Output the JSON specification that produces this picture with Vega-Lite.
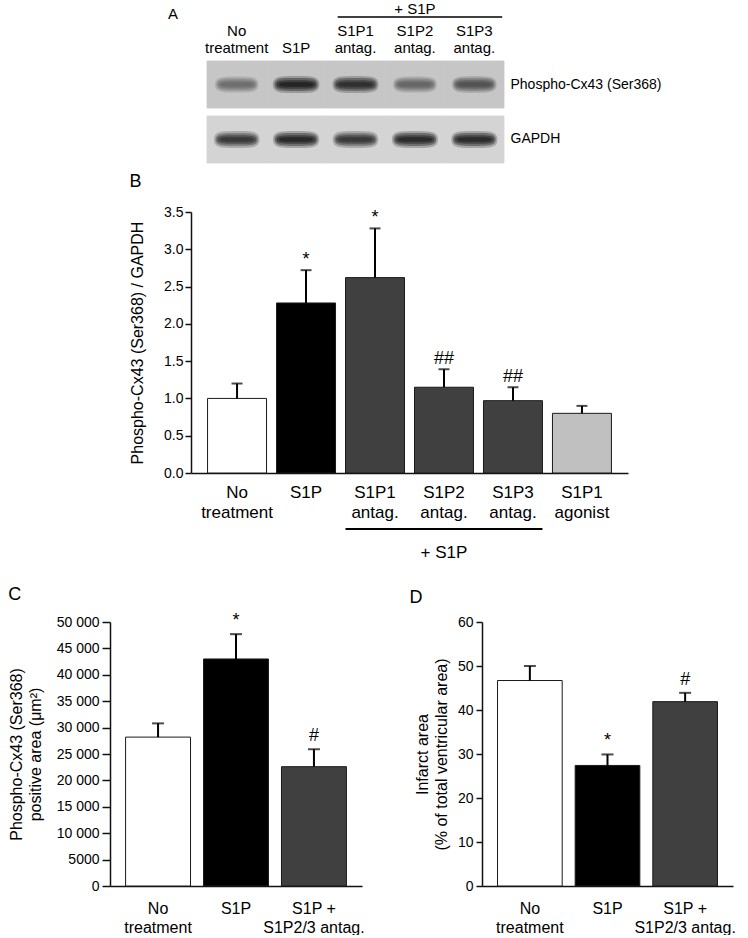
{
  "$schema": "https://vega.github.io/schema/vega-lite/v6.json",
  "background": "white",
  "padding": {"left": 8, "top": 1, "right": 0, "bottom": 0},
  "config": {
    "font": "Liberation Sans",
    "view": {"stroke": null},
    "axis": {"labelFont": "Liberation Sans", "titleFont": "Liberation Sans", "labelColor": "black", "titleColor": "black", "domainColor": "#111", "tickColor": "#111", "grid": false, "titleFontWeight": "normal", "domainWidth": 1.5, "tickWidth": 1.5, "labelOverlap": false},
    "title": {"font": "Liberation Sans", "fontSize": 18, "fontWeight": "normal", "anchor": "start", "frame": "bounds", "color": "black", "baseline": "alphabetic"},
    "text": {"font": "Liberation Sans", "color": "black"}
  },
  "resolve": {"scale": {"fill": "independent", "color": "independent", "size": "independent"}},
  "spacing": 25,
  "vconcat": [
    {
      "spacing": 9,
      "resolve": {"scale": {"fill": "independent", "color": "independent", "size": "independent"}},
      "vconcat": [
        {
          "spacing": 0,
          "hconcat": [
            {"width": 58, "height": 1, "view": {"fill": "#ffffff", "stroke": null}, "data": {"values": []}, "mark": "point"},
            {
              "title": {"text": "A", "fontSize": 15, "dx": -37, "offset": -20},
              "width": 297,
              "height": 157,
              "data": {"values": [
                {"lane": "No treatment", "row": "Phospho-Cx43 (Ser368)", "intensity": 0.5},
                {"lane": "S1P", "row": "Phospho-Cx43 (Ser368)", "intensity": 1.0},
                {"lane": "S1P1 antag.", "row": "Phospho-Cx43 (Ser368)", "intensity": 0.92},
                {"lane": "S1P2 antag.", "row": "Phospho-Cx43 (Ser368)", "intensity": 0.55},
                {"lane": "S1P3 antag.", "row": "Phospho-Cx43 (Ser368)", "intensity": 0.68},
                {"lane": "No treatment", "row": "GAPDH", "intensity": 0.85},
                {"lane": "S1P", "row": "GAPDH", "intensity": 0.97},
                {"lane": "S1P1 antag.", "row": "GAPDH", "intensity": 0.85},
                {"lane": "S1P2 antag.", "row": "GAPDH", "intensity": 0.95},
                {"lane": "S1P3 antag.", "row": "GAPDH", "intensity": 0.95}
              ]},
              "encoding": {
                "x": {"field": "lane", "type": "nominal", "scale": {"domain": ["No treatment", "S1P", "S1P1 antag.", "S1P2 antag.", "S1P3 antag."], "paddingInner": 0, "paddingOuter": 0}, "axis": null},
                "y": {"field": "row", "type": "nominal", "scale": {"domain": ["header", "Phospho-Cx43 (Ser368)", "GAPDH"], "paddingInner": 0.145, "paddingOuter": 0},
                      "axis": {"orient": "right", "domain": false, "ticks": false, "labelPadding": 6, "labelFontSize": 14, "labelExpr": "datum.value == 'header' ? '' : datum.value", "title": null}}
              },
              "layer": [
                {"mark": {"type": "rect", "strokeWidth": 0.8},
                 "encoding": {
                   "fill": {"field": "row", "type": "nominal", "scale": {"domain": ["Phospho-Cx43 (Ser368)", "GAPDH"], "range": ["#c6c6c6", "#d4d4d4"]}, "legend": null},
                   "stroke": {"field": "row", "type": "nominal", "scale": {"domain": ["Phospho-Cx43 (Ser368)", "GAPDH"], "range": ["#c6c6c6", "#d4d4d4"]}, "legend": null}
                 }},
                {"mark": {"type": "point", "filled": true, "opacity": 0.25, "shape": "M -1.08 0 C -1.08 -0.4, -0.7 -0.4, 0 -0.4 C 0.7 -0.4, 1.08 -0.4, 1.08 0 C 1.08 0.4, 0.7 0.4, 0 0.4 C -0.7 0.4, -1.08 0.4, -1.08 0 Z"},
                 "encoding": {
                   "size": {"field": "intensity", "type": "quantitative", "scale": {"domain": [0, 1], "range": [1400, 1850]}, "legend": null},
                   "color": {"field": "intensity", "type": "quantitative", "scale": {"domain": [0, 1], "range": ["#c8c8c8", "#151515"]}, "legend": null}
                 }},
                {"mark": {"type": "point", "filled": true, "opacity": 0.4, "shape": "M -1 0 C -1 -0.3, -0.65 -0.3, 0 -0.3 C 0.65 -0.3, 1 -0.3, 1 0 C 1 0.3, 0.65 0.3, 0 0.3 C -0.65 0.3, -1 0.3, -1 0 Z"},
                 "encoding": {
                   "size": {"field": "intensity", "type": "quantitative", "scale": {"domain": [0, 1], "range": [1400, 1850]}, "legend": null},
                   "color": {"field": "intensity", "type": "quantitative", "scale": {"domain": [0, 1], "range": ["#c8c8c8", "#151515"]}, "legend": null}
                 }},
                {"mark": {"type": "point", "filled": true, "opacity": 0.5, "shape": "M -0.92 0 C -0.92 -0.2, -0.6 -0.2, 0 -0.2 C 0.6 -0.2, 0.92 -0.2, 0.92 0 C 0.92 0.2, 0.6 0.2, 0 0.2 C -0.6 0.2, -0.92 0.2, -0.92 0 Z"},
                 "encoding": {
                   "size": {"field": "intensity", "type": "quantitative", "scale": {"domain": [0, 1], "range": [1400, 1850]}, "legend": null},
                   "color": {"field": "intensity", "type": "quantitative", "scale": {"domain": [0, 1], "range": ["#c8c8c8", "#151515"]}, "legend": null}
                 }},
                {"mark": {"type": "point", "filled": true, "opacity": 0.6, "shape": "M -0.8 0 C -0.8 -0.11, -0.5 -0.11, 0 -0.11 C 0.5 -0.11, 0.8 -0.11, 0.8 0 C 0.8 0.11, 0.5 0.11, 0 0.11 C -0.5 0.11, -0.8 0.11, -0.8 0 Z"},
                 "encoding": {
                   "size": {"field": "intensity", "type": "quantitative", "scale": {"domain": [0, 1], "range": [1400, 1850]}, "legend": null},
                   "color": {"field": "intensity", "type": "quantitative", "scale": {"domain": [0, 1], "range": ["#c8c8c8", "#151515"]}, "legend": null}
                 }},
                {"data": {"values": [
                   {"lane": "No treatment", "row": "header", "label": "No\ntreatment"},
                   {"lane": "S1P", "row": "header", "label": "\nS1P"},
                   {"lane": "S1P1 antag.", "row": "header", "label": "S1P1\nantag."},
                   {"lane": "S1P2 antag.", "row": "header", "label": "S1P2\nantag."},
                   {"lane": "S1P3 antag.", "row": "header", "label": "S1P3\nantag."}
                 ]},
                 "mark": {"type": "text", "fontSize": 15, "lineBreak": "\n", "lineHeight": 17, "baseline": "bottom", "dy": -14},
                 "encoding": {"y": {"field": "row", "type": "nominal", "bandPosition": 1}, "text": {"field": "label"}}},
                {"data": {"values": [{"lane": "S1P2 antag.", "from": "S1P1 antag.", "to": "S1P3 antag.", "row": "header", "label": "+ S1P"}]},
                 "layer": [
                   {"mark": {"type": "rule", "strokeWidth": 1.5, "color": "black"},
                    "encoding": {"x": {"field": "from", "type": "nominal", "bandPosition": 0.2}, "x2": {"field": "to", "bandPosition": 0.97}, "y": {"field": "row", "type": "nominal", "bandPosition": 0.234}}},
                   {"mark": {"type": "text", "fontSize": 15, "baseline": "middle"},
                    "encoding": {"y": {"field": "row", "type": "nominal", "bandPosition": 0.06}, "text": {"field": "label"}}}
                 ]}
              ]
            }
          ]
        },
        {
          "spacing": 0,
          "hconcat": [
            {"width": 19, "height": 1, "view": {"fill": "#ffffff", "stroke": null}, "data": {"values": []}, "mark": "point"},
            {
              "title": {"text": "B", "offset": 14},
              "width": 437,
              "height": 261,
              "data": {"values": [
                {"group": "No treatment", "value": 1.0, "upper": 1.2, "sig": ""},
                {"group": "S1P", "value": 2.28, "upper": 2.72, "sig": "*"},
                {"group": "S1P1 antag.", "value": 2.62, "upper": 3.28, "sig": "*"},
                {"group": "S1P2 antag.", "value": 1.15, "upper": 1.39, "sig": "##"},
                {"group": "S1P3 antag.", "value": 0.97, "upper": 1.15, "sig": "##"},
                {"group": "S1P1 agonist", "value": 0.8, "upper": 0.9, "sig": ""}
              ]},
              "encoding": {
                "x": {"field": "group", "type": "nominal", "scale": {"domain": ["No treatment", "S1P", "S1P1 antag.", "S1P2 antag.", "S1P3 antag.", "S1P1 agonist"], "paddingInner": 0.145, "paddingOuter": 0.24},
                      "axis": {"title": null, "ticks": false, "labelAngle": 0, "labelFontSize": 17, "labelLineHeight": 20, "labelPadding": 11, "labelExpr": "split(datum.value, ' ')"}}
              },
              "layer": [
                {"mark": {"type": "bar", "stroke": "#1a1a1a", "strokeWidth": 1},
                 "encoding": {
                   "y": {"field": "value", "type": "quantitative", "scale": {"domain": [0, 3.5]},
                         "axis": {"values": [0, 0.5, 1, 1.5, 2, 2.5, 3, 3.5], "format": ".1f", "tickSize": 6, "labelPadding": 2, "labelFontSize": 14, "title": "Phospho-Cx43 (Ser368) / GAPDH", "titleFontSize": 16, "titlePadding": 18}},
                   "fill": {"field": "group", "type": "nominal", "scale": {"domain": ["No treatment", "S1P", "S1P1 antag.", "S1P2 antag.", "S1P3 antag.", "S1P1 agonist"], "range": ["#ffffff", "#000000", "#404040", "#404040", "#404040", "#c0c0c0"]}, "legend": null}
                 }},
                {"mark": {"type": "rule", "strokeWidth": 2, "color": "black"},
                 "encoding": {"y": {"field": "value", "type": "quantitative", "axis": {"values": [0, 0.5, 1, 1.5, 2, 2.5, 3, 3.5], "format": ".1f", "tickSize": 6, "labelPadding": 2, "labelFontSize": 14, "title": "Phospho-Cx43 (Ser368) / GAPDH", "titleFontSize": 16, "titlePadding": 18}}, "y2": {"field": "upper"}}},
                {"mark": {"type": "tick", "orient": "horizontal", "size": 11, "thickness": 2, "color": "black"},
                 "encoding": {"y": {"field": "upper", "type": "quantitative", "axis": {"values": [0, 0.5, 1, 1.5, 2, 2.5, 3, 3.5], "format": ".1f", "tickSize": 6, "labelPadding": 2, "labelFontSize": 14, "title": "Phospho-Cx43 (Ser368) / GAPDH", "titleFontSize": 16, "titlePadding": 18}}}},
                {"mark": {"type": "text", "fontSize": 18, "baseline": "alphabetic", "dy": -5},
                 "encoding": {"y": {"field": "upper", "type": "quantitative", "axis": {"values": [0, 0.5, 1, 1.5, 2, 2.5, 3, 3.5], "format": ".1f", "tickSize": 6, "labelPadding": 2, "labelFontSize": 14, "title": "Phospho-Cx43 (Ser368) / GAPDH", "titleFontSize": 16, "titlePadding": 18}}, "text": {"field": "sig"}}},
                {"data": {"values": [{"group": "S1P2 antag.", "from": "S1P1 antag.", "to": "S1P3 antag.", "label": "+ S1P"}]},
                 "layer": [
                   {"mark": {"type": "rule", "strokeWidth": 2, "color": "black"},
                    "encoding": {"x": {"field": "from", "type": "nominal", "bandPosition": 0}, "x2": {"field": "to", "bandPosition": 1}, "y": {"datum": -0.75, "type": "quantitative", "axis": {"values": [0, 0.5, 1, 1.5, 2, 2.5, 3, 3.5], "format": ".1f", "tickSize": 6, "labelPadding": 2, "labelFontSize": 14, "title": "Phospho-Cx43 (Ser368) / GAPDH", "titleFontSize": 16, "titlePadding": 18}}}},
                   {"mark": {"type": "text", "fontSize": 17, "baseline": "middle"},
                    "encoding": {"y": {"datum": -1.07, "type": "quantitative", "axis": {"values": [0, 0.5, 1, 1.5, 2, 2.5, 3, 3.5], "format": ".1f", "tickSize": 6, "labelPadding": 2, "labelFontSize": 14, "title": "Phospho-Cx43 (Ser368) / GAPDH", "titleFontSize": 16, "titlePadding": 18}}, "text": {"field": "label"}}}
                 ]}
              ]
            }
          ]
        }
      ]
    },
    {
      "spacing": 44,
      "resolve": {"scale": {"fill": "independent"}},
      "hconcat": [
        {
          "title": {"text": "C", "offset": 8},
          "width": 252,
          "height": 264,
          "data": {"values": [
            {"group": "No treatment", "value": 28200, "upper": 30800, "sig": ""},
            {"group": "S1P", "value": 43000, "upper": 47700, "sig": "*"},
            {"group": "S1P + S1P2/3 antag.", "value": 22600, "upper": 25900, "sig": "#"}
          ]},
          "encoding": {
            "x": {"field": "group", "type": "nominal", "scale": {"domain": ["No treatment", "S1P", "S1P + S1P2/3 antag."], "paddingInner": 0.167, "paddingOuter": 0.2},
                  "axis": {"title": null, "ticks": false, "labelAngle": 0, "labelFontSize": 16, "labelLineHeight": 19, "labelPadding": 14, "labelExpr": "datum.value == 'S1P + S1P2/3 antag.' ? ['S1P +', 'S1P2/3 antag.'] : split(datum.value, ' ')"}}
          },
          "layer": [
            {"mark": {"type": "bar", "stroke": "#1a1a1a", "strokeWidth": 1},
             "encoding": {
               "y": {"field": "value", "type": "quantitative", "scale": {"domain": [0, 50000]},
                     "axis": {"values": [0, 5000, 10000, 15000, 20000, 25000, 30000, 35000, 40000, 45000, 50000], "labelExpr": "datum.value >= 10000 ? replace(format(datum.value, ','), ',', ' ') : format(datum.value, 'd')", "tickSize": 8, "labelPadding": 3, "labelFontSize": 14, "title": ["Phospho-Cx43 (Ser368)", "positive area (μm²)"], "titleFontSize": 16, "titleLineHeight": 19, "titlePadding": 13}},
               "fill": {"field": "group", "type": "nominal", "scale": {"domain": ["No treatment", "S1P", "S1P + S1P2/3 antag."], "range": ["#ffffff", "#000000", "#404040"]}, "legend": null}
             }},
            {"mark": {"type": "rule", "strokeWidth": 2, "color": "black"},
             "encoding": {"y": {"field": "value", "type": "quantitative", "axis": {"values": [0, 5000, 10000, 15000, 20000, 25000, 30000, 35000, 40000, 45000, 50000], "labelExpr": "datum.value >= 10000 ? replace(format(datum.value, ','), ',', ' ') : format(datum.value, 'd')", "tickSize": 8, "labelPadding": 3, "labelFontSize": 14, "title": ["Phospho-Cx43 (Ser368)", "positive area (μm²)"], "titleFontSize": 16, "titleLineHeight": 19, "titlePadding": 13}}, "y2": {"field": "upper"}}},
            {"mark": {"type": "tick", "orient": "horizontal", "size": 12, "thickness": 2, "color": "black"},
             "encoding": {"y": {"field": "upper", "type": "quantitative", "axis": {"values": [0, 5000, 10000, 15000, 20000, 25000, 30000, 35000, 40000, 45000, 50000], "labelExpr": "datum.value >= 10000 ? replace(format(datum.value, ','), ',', ' ') : format(datum.value, 'd')", "tickSize": 8, "labelPadding": 3, "labelFontSize": 14, "title": ["Phospho-Cx43 (Ser368)", "positive area (μm²)"], "titleFontSize": 16, "titleLineHeight": 19, "titlePadding": 13}}}},
            {"mark": {"type": "text", "fontSize": 18, "baseline": "alphabetic", "dy": -8},
             "encoding": {"y": {"field": "upper", "type": "quantitative", "axis": {"values": [0, 5000, 10000, 15000, 20000, 25000, 30000, 35000, 40000, 45000, 50000], "labelExpr": "datum.value >= 10000 ? replace(format(datum.value, ','), ',', ' ') : format(datum.value, 'd')", "tickSize": 8, "labelPadding": 3, "labelFontSize": 14, "title": ["Phospho-Cx43 (Ser368)", "positive area (μm²)"], "titleFontSize": 16, "titleLineHeight": 19, "titlePadding": 13}}, "text": {"field": "sig"}}}
          ]
        },
        {
          "title": {"text": "D", "offset": 8, "dx": -5},
          "width": 251,
          "height": 264,
          "data": {"values": [
            {"group": "No treatment", "value": 46.7, "upper": 50.0, "sig": ""},
            {"group": "S1P", "value": 27.4, "upper": 29.9, "sig": "*"},
            {"group": "S1P + S1P2/3 antag.", "value": 41.9, "upper": 43.9, "sig": "#"}
          ]},
          "encoding": {
            "x": {"field": "group", "type": "nominal", "scale": {"domain": ["No treatment", "S1P", "S1P + S1P2/3 antag."], "paddingInner": 0.167, "paddingOuter": 0.2},
                  "axis": {"title": null, "ticks": false, "labelAngle": 0, "labelFontSize": 16, "labelLineHeight": 19, "labelPadding": 14, "labelExpr": "datum.value == 'S1P + S1P2/3 antag.' ? ['S1P +', 'S1P2/3 antag.'] : split(datum.value, ' ')"}}
          },
          "layer": [
            {"mark": {"type": "bar", "stroke": "#1a1a1a", "strokeWidth": 1},
             "encoding": {
               "y": {"field": "value", "type": "quantitative", "scale": {"domain": [0, 60]},
                     "axis": {"values": [0, 10, 20, 30, 40, 50, 60], "tickSize": 6, "labelPadding": 3, "labelFontSize": 14, "title": ["Infarct area", "(% of total ventricular area)"], "titleFontSize": 16, "titleLineHeight": 19, "titlePadding": 8}},
               "fill": {"field": "group", "type": "nominal", "scale": {"domain": ["No treatment", "S1P", "S1P + S1P2/3 antag."], "range": ["#ffffff", "#000000", "#404040"]}, "legend": null}
             }},
            {"mark": {"type": "rule", "strokeWidth": 2, "color": "black"},
             "encoding": {"y": {"field": "value", "type": "quantitative", "axis": {"values": [0, 10, 20, 30, 40, 50, 60], "tickSize": 6, "labelPadding": 3, "labelFontSize": 14, "title": ["Infarct area", "(% of total ventricular area)"], "titleFontSize": 16, "titleLineHeight": 19, "titlePadding": 8}}, "y2": {"field": "upper"}}},
            {"mark": {"type": "tick", "orient": "horizontal", "size": 12, "thickness": 2, "color": "black"},
             "encoding": {"y": {"field": "upper", "type": "quantitative", "axis": {"values": [0, 10, 20, 30, 40, 50, 60], "tickSize": 6, "labelPadding": 3, "labelFontSize": 14, "title": ["Infarct area", "(% of total ventricular area)"], "titleFontSize": 16, "titleLineHeight": 19, "titlePadding": 8}}}},
            {"mark": {"type": "text", "fontSize": 18, "baseline": "alphabetic", "dy": -8},
             "encoding": {"y": {"field": "upper", "type": "quantitative", "axis": {"values": [0, 10, 20, 30, 40, 50, 60], "tickSize": 6, "labelPadding": 3, "labelFontSize": 14, "title": ["Infarct area", "(% of total ventricular area)"], "titleFontSize": 16, "titleLineHeight": 19, "titlePadding": 8}}, "text": {"field": "sig"}}}
          ]
        }
      ]
    }
  ]
}
